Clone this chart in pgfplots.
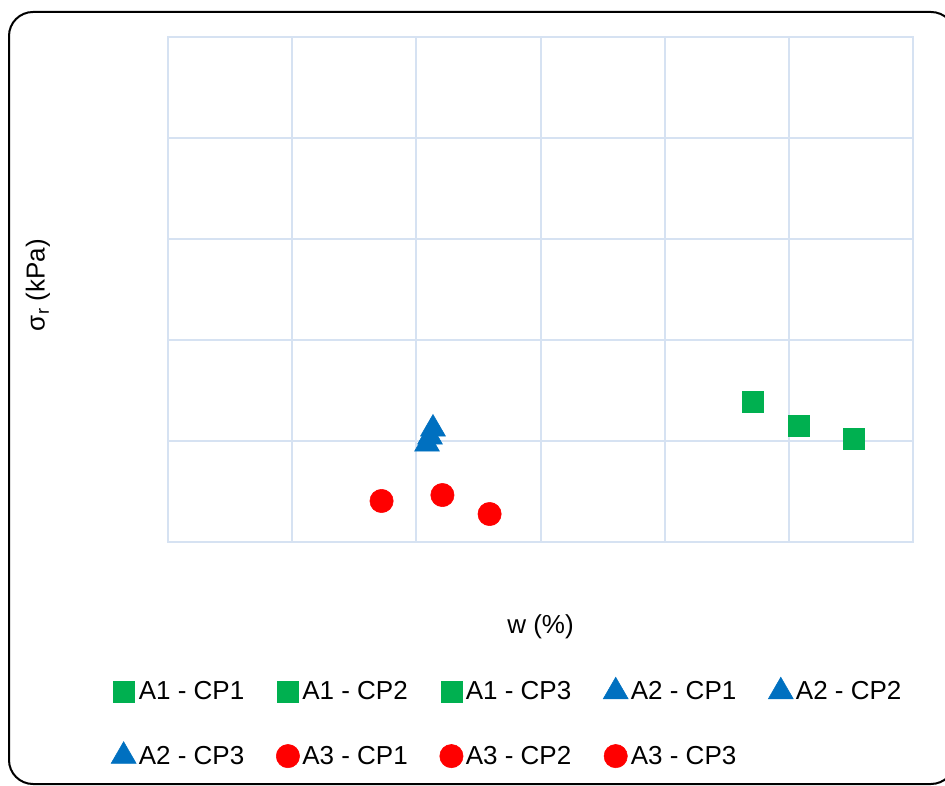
\documentclass[border=0pt]{standalone}
\usepackage{pgfplots}
\pgfplotsset{compat=1.18}
\usepackage{fontspec}
\setmainfont{Liberation Sans}

\definecolor{gridblue}{RGB}{214,226,242}
\definecolor{sqgreen}{RGB}{0,176,80}
\definecolor{tribblue}{RGB}{0,112,192}
\definecolor{dotred}{RGB}{255,0,0}

\begin{document}
\begin{tikzpicture}
\useasboundingbox (0pt,0pt) rectangle (708.75pt,588.75pt);
% outer chart frame
\draw[line width=1.5pt, rounded corners=18pt] (6.75pt,0.75pt) rectangle (716.25pt,579.75pt);

\begin{axis}[
  at={(126pt,182.25pt)}, anchor=south west,
  scale only axis,
  width=558.75pt, height=378.75pt,
  xmin=0, xmax=6, ymin=0, ymax=5,
  xtick={0,...,6}, ytick={0,...,5},
  xticklabels={}, yticklabels={},
  major tick length=0pt,
  grid=major,
  grid style={gridblue, line width=1.5pt},
  axis line style={gridblue, line width=1.5pt},
  font=\fontsize{19.5}{23}\selectfont,
  xlabel={w (\%)},
  xlabel style={at={(axis description cs:0.5,-0.168)}, anchor=center},
  ylabel={σ\textsubscript{r} (kPa)},
  ylabel style={at={(axis description cs:-0.1745,0.509)}, anchor=center},
  legend columns=5,
  legend cell align=left,
  legend style={
    draw=none, fill=none,
    at={(axis description cs:-0.082,-0.262)}, anchor=north west,
    font=\fontsize{19.5}{23}\selectfont,
    row sep=29pt,
    nodes={inner sep=1pt},
    /tikz/every odd column/.append style={column sep=1pt},
    /tikz/every even column/.append style={column sep=23pt},
  },
  legend image code/.code={\draw[#1] plot coordinates {(0,0)};},
]
% A1 : green squares
\addplot[only marks, mark=square*, color=sqgreen, mark size=7.8pt, mark options={rounded corners=2.5pt}]
  coordinates {(4.71,1.386)};
\addlegendentry{A1 - CP1}
\addplot[only marks, mark=square*, color=sqgreen, mark size=7.8pt, mark options={rounded corners=2.5pt}]
  coordinates {(5.08,1.149)};
\addlegendentry{A1 - CP2}
\addplot[only marks, mark=square*, color=sqgreen, mark size=7.8pt, mark options={rounded corners=2.5pt}]
  coordinates {(5.52,1.02)};
\addlegendentry{A1 - CP3}
% A2 : blue triangles
\addplot[only marks, mark=triangle*, color=tribblue, mark size=10.8pt, mark options={rounded corners=2.5pt}]
  coordinates {(2.086,0.97)};
\addlegendentry{A2 - CP1}
\addplot[only marks, mark=triangle*, color=tribblue, mark size=10.8pt, mark options={rounded corners=2.5pt}]
  coordinates {(2.11,1.04)};
\addlegendentry{A2 - CP2}
\addplot[only marks, mark=triangle*, color=tribblue, mark size=10.8pt, mark options={rounded corners=2.5pt}]
  coordinates {(2.134,1.12)};
\addlegendentry{A2 - CP3}
% A3 : red circles
\addplot[only marks, mark=*, color=dotred, mark size=8.75pt]
  coordinates {(1.72,0.406)};
\addlegendentry{A3 - CP1}
\addplot[only marks, mark=*, color=dotred, mark size=8.75pt]
  coordinates {(2.21,0.465)};
\addlegendentry{A3 - CP2}
\addplot[only marks, mark=*, color=dotred, mark size=8.75pt]
  coordinates {(2.59,0.277)};
\addlegendentry{A3 - CP3}
\end{axis}
\end{tikzpicture}
\end{document}
